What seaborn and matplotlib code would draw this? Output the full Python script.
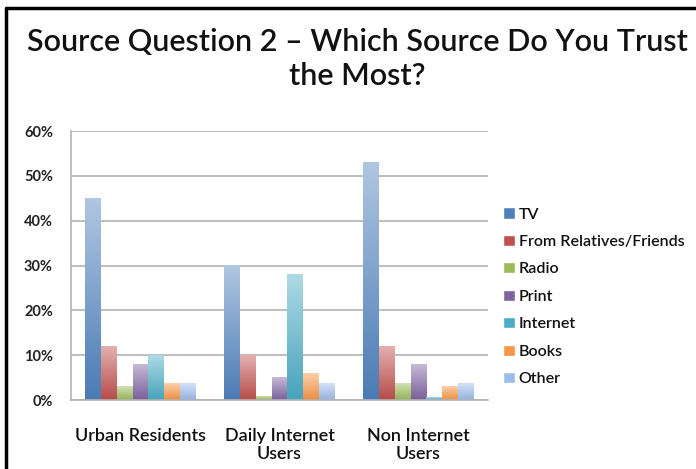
import numpy as np
import pandas as pd
import matplotlib
matplotlib.use("Agg")
import matplotlib.pyplot as plt
import matplotlib.colors as mcolors
from matplotlib.patches import Rectangle
from matplotlib.lines import Line2D
import seaborn as sns

# Data (percent)
groups = ["Urban Residents", "Daily Internet\nUsers", "Non Internet\nUsers"]
sources = ["TV", "From Relatives/Friends", "Radio", "Print", "Internet", "Books", "Other"]
tv        = [45, 30, 53]
relatives = [12, 10, 12]
radio     = [3, 0.7, 3.6]
print_    = [8, 5, 8]
internet  = [10, 28, 0.6]
books     = [3.6, 6, 3]
other     = [3.6, 3.6, 3.6]

colors = ["#4F81BD", "#C0504D", "#9BBB59", "#8064A2", "#4BACC6", "#F79646", "#9DBCEB"]

values = [tv, relatives, radio, print_, internet, books, other]
df = pd.DataFrame({
    "group": np.tile(groups, len(sources)),
    "source": np.repeat(sources, len(groups)),
    "value": np.concatenate(values),
})

sns.set_style("white")
plt.rcParams["font.family"] = ["Lato", "DejaVu Sans"]

fig = plt.figure(figsize=(6.96, 4.69), dpi=100)
ax = fig.add_axes([71 / 696, 69 / 469, 417 / 696, 269 / 469])

sns.barplot(data=df, x="group", y="value", hue="source", order=groups,
            hue_order=sources, palette=colors, width=0.8, gap=0,
            ax=ax, legend=False, saturation=1)

# gradient fill: lighter at top, darker at bottom
for patch in list(ax.patches):
    x0, y0 = patch.get_x(), patch.get_y()
    w, h = patch.get_width(), patch.get_height()
    if h <= 0:
        continue
    base = np.array(mcolors.to_rgb(patch.get_facecolor()))
    top = base + (1 - base) * 0.55
    bot = base * 0.95
    t = np.linspace(0, 1, 64)[:, None]
    grad = top * (1 - t) + bot * t
    ax.imshow(grad[:, None, :], extent=(x0, x0 + w, y0, y0 + h),
              aspect="auto", zorder=2, interpolation="bilinear")
    patch.set_visible(False)

ax.set_xlim(-0.5, 2.5)
ax.set_ylim(0, 60)
ax.set_yticks(np.arange(0, 61, 10))
ax.set_yticklabels([f"{v}%" for v in range(0, 61, 10)])
ax.yaxis.grid(True, color="#b3b3b3", linewidth=1.2)
ax.set_axisbelow(True)
ax.set_xlabel("")
ax.set_ylabel("")

for s in ["top", "right"]:
    ax.spines[s].set_visible(False)
for s in ["left", "bottom"]:
    ax.spines[s].set_color("#b3b3b3")
    ax.spines[s].set_linewidth(1.2)

ax.tick_params(axis="y", length=8, color="#b3b3b3", width=1.2, pad=5,
               labelsize=10.5, labelcolor="#222222")
ax.set_xticks([-0.5, 0.5, 1.5, 2.5], minor=True)
ax.tick_params(axis="x", which="minor", length=5, color="#b3b3b3", width=1.2)
ax.tick_params(axis="x", which="major", length=0, pad=20, labelsize=13,
               labelcolor="#111111")
for lbl in ax.get_yticklabels():
    lbl.set_fontweight("bold")
for lbl in ax.get_xticklabels():
    lbl.set_fontweight("semibold")
    lbl.set_linespacing(1.15)

handles = [Rectangle((0, 0), 1, 1, facecolor=c) for c in colors]
leg = fig.legend(handles, sources, loc="upper left",
                 bbox_to_anchor=(497 / 696, 1 - 201 / 469),
                 frameon=False, fontsize=11.5, handlelength=0.7, handleheight=0.7,
                 handletextpad=0.25, labelspacing=0.83, borderaxespad=0)
for txt in leg.get_texts():
    txt.set_fontweight("semibold")
    txt.set_color("#111111")

fig.text(357 / 696, 1 - 42 / 469, "Source Question 2 \u2013 Which Source Do You Trust",
         ha="center", va="center", fontsize=22, color="#111111", fontweight="semibold")
fig.text(357 / 696, 1 - 76 / 469, "the Most?",
         ha="center", va="center", fontsize=22, color="#111111", fontweight="semibold")

# outer frame
fig.add_artist(Line2D([6 / 696, 6 / 696], [0, 1 - 8 / 469], color="black",
                      linewidth=2.5, transform=fig.transFigure))
fig.add_artist(Line2D([6 / 696, 1], [1 - 8 / 469, 1 - 8 / 469], color="black",
                      linewidth=2.5, transform=fig.transFigure))

fig.savefig("out.png", dpi=100)
